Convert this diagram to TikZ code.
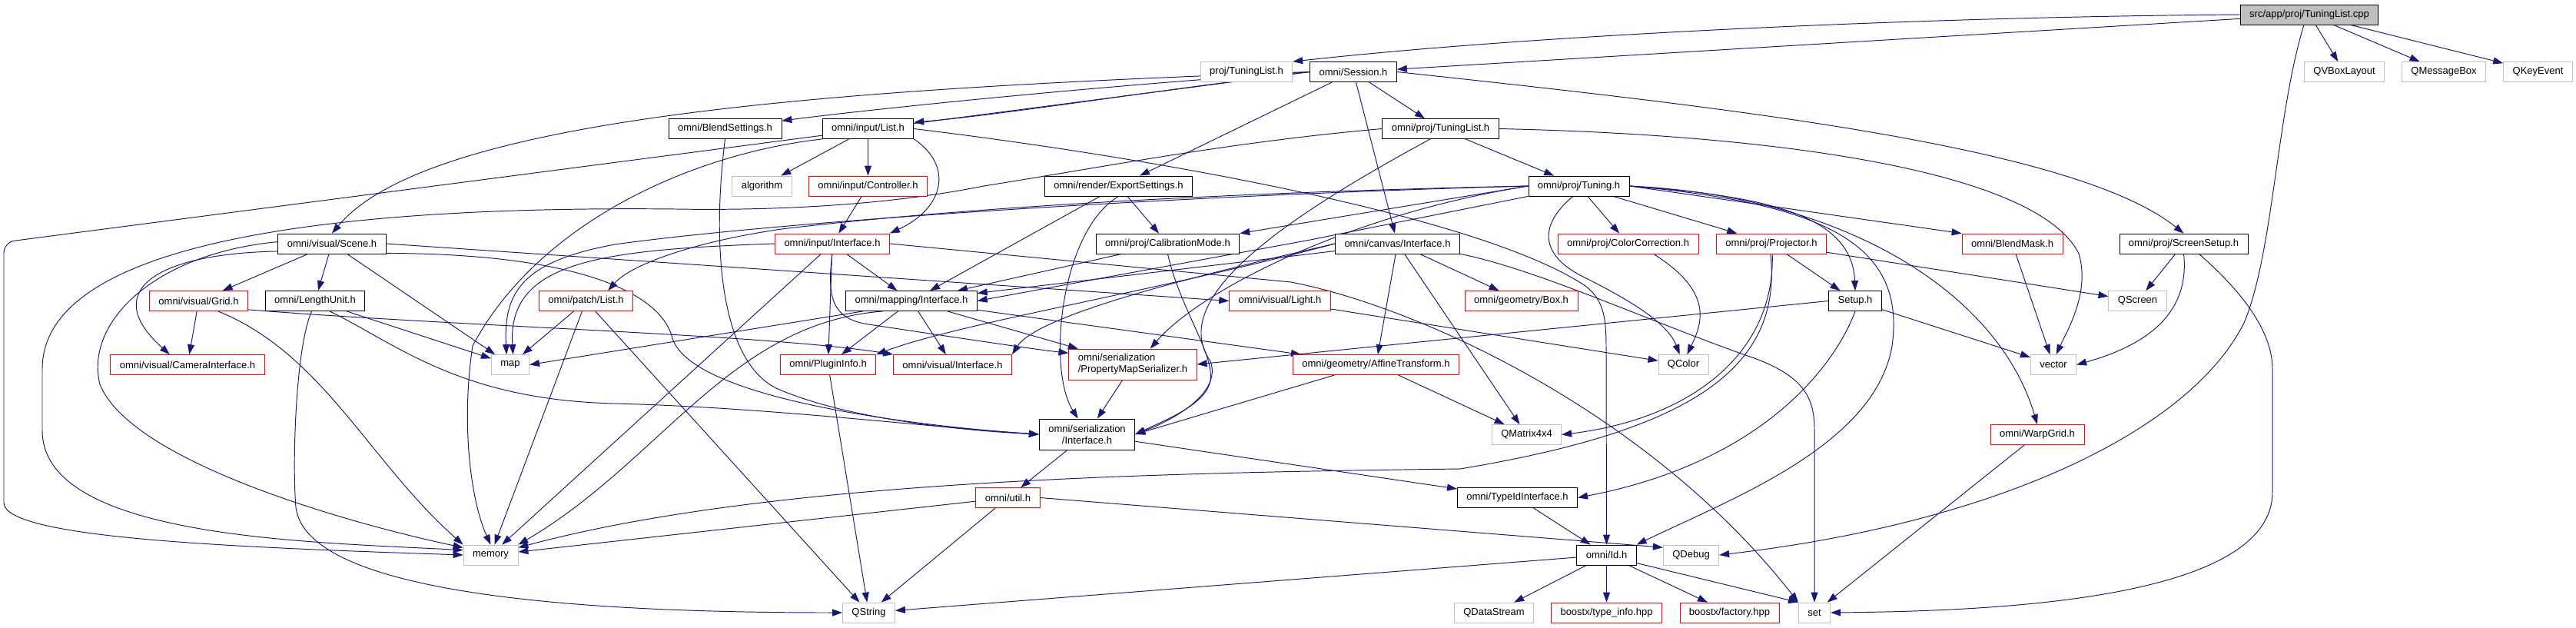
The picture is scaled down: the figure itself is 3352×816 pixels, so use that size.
\documentclass[tikz,border=0pt]{standalone}
\usepackage{fontspec}
\setmainfont{Liberation Sans}
\usepackage{xcolor}
\definecolor{depblue}{rgb}{0.1,0.1,0.44}
\definecolor{extgray}{rgb}{0.75,0.75,0.75}
\usepackage{tikz}
\usetikzlibrary{arrows.meta, backgrounds}

\begin{document}
\begin{tikzpicture}[x=0.02cm, y=-0.02cm,
	hdr/.style={rectangle, draw=black, fill=white, line width=0.45pt, minimum height=0.52cm,
	            inner xsep=0.24cm, inner ysep=1pt, font=\fontsize{7.4}{8.5}\selectfont},
	src/.style={hdr, fill=extgray},
	trunc/.style={hdr, draw=red},
	sys/.style={hdr, draw=extgray},
	two/.style={minimum height=0.8cm},
	dep/.style={-{Triangle[length=2.6mm, width=1.8mm]}, draw=depblue, line width=0.55pt}
	]
\useasboundingbox (0,0) rectangle (3352,816);

% Quelldatei und erste Ebene
\node[src] (cpp) at (3005,19) {src/app/proj/TuningList.cpp};
\node[sys] (projTL) at (1622,93.5) {proj/TuningList.h};
\node[hdr] (session) at (1761,93.5) {omni/Session.h};
\node[sys] (qvbox) at (3050.5,93.5) {QVBoxLayout};
\node[sys] (qmsg) at (3180,93.5) {QMessageBox};
\node[sys] (qkey) at (3302.5,93.5) {QKeyEvent};

% Header aus Session.h
\node[hdr] (blend) at (943.5,167.5) {omni/BlendSettings.h};
\node[hdr] (inlist) at (1129.5,167.5) {omni/input/List.h};
\node[hdr] (tlist) at (1874.5,167.5) {omni/proj/TuningList.h};
\node[sys] (algo) at (991.5,242) {algorithm};
\node[trunc] (ctrl) at (1129.5,242) {omni/input/Controller.h};
\node[hdr] (export) at (1455.5,242) {omni/render/ExportSettings.h};
\node[hdr] (tuning) at (2054.5,242) {omni/proj/Tuning.h};

% mittlere Ebenen
\node[hdr] (scene) at (432,317) {omni/visual/Scene.h};
\node[trunc] (iniface) at (1083,317) {omni/input/Interface.h};
\node[hdr] (calib) at (1519.5,317) {omni/proj/CalibrationMode.h};
\node[hdr] (canvas) at (1818.5,317) {omni/canvas/Interface.h};
\node[trunc] (colcorr) at (2118.5,317) {omni/proj/ColorCorrection.h};
\node[trunc] (proj) at (2305,317) {omni/proj/Projector.h};
\node[trunc] (bmask) at (2618.5,317) {omni/BlendMask.h};
\node[hdr] (screen) at (2841.5,317) {omni/proj/ScreenSetup.h};
\node[trunc] (grid) at (258.5,391.5) {omni/visual/Grid.h};
\node[hdr] (lunit) at (410,391.5) {omni/LengthUnit.h};
\node[trunc] (plist) at (762.5,391.5) {omni/patch/List.h};
\node[hdr] (mapping) at (1186,391.5) {omni/mapping/Interface.h};
\node[trunc] (light) at (1665.5,391.5) {omni/visual/Light.h};
\node[trunc] (box) at (1979.5,391.5) {omni/geometry/Box.h};
\node[hdr] (setup) at (2414,391.5) {Setup.h};
\node[sys] (qscreen) at (2781.5,391.5) {QScreen};
\node[trunc] (camera) at (244,474.5) {omni/visual/CameraInterface.h};
\node[sys] (map) at (664,474.5) {map};
\node[trunc] (plugin) at (1077.5,474.5) {omni/PluginInfo.h};
\node[trunc] (viface) at (1239.5,474.5) {omni/visual/Interface.h};
\node[trunc, two, align=left] (pmser) at (1474,474) {omni/serialization\\/PropertyMapSerializer.h};
\node[trunc] (affine) at (1790.5,474.5) {omni/geometry/AffineTransform.h};
\node[sys] (qcolor) at (2190.5,474.5) {QColor};
\node[sys] (vector) at (2672,474.5) {vector};

% untere Ebenen
\node[hdr, two, align=center] (serial) at (1414.5,565) {omni/serialization\\/Interface.h};
\node[sys] (qmatrix) at (1986.5,565.5) {QMatrix4x4};
\node[trunc] (warp) at (2651,565.5) {omni/WarpGrid.h};
\node[trunc] (util) at (1311.5,647.5) {omni/util.h};
\node[hdr] (typeid) at (1974.5,647.5) {omni/TypeIdInterface.h};
\node[sys] (memory) at (638.5,722) {memory};
\node[hdr] (id) at (2090.5,722) {omni/Id.h};
\node[sys] (qdebug) at (2200.5,722) {QDebug};
\node[sys] (qstring) at (1130.5,797) {QString};
\node[sys] (qdstream) at (1944,797) {QDataStream};
\node[trunc] (tinfo) at (2090.5,797) {boostx/type\_info.hpp};
\node[trunc] (factory) at (2250.5,797) {boostx/factory.hpp};
\node[sys] (set) at (2361,797) {set};

\begin{scope}[on background layer]
% Quelldatei
\draw[dep] (cpp.west) .. controls (2500,22) and (2000,45) .. (projTL.north east);
\draw[dep] (cpp) -- (session);
\draw[dep] (cpp) -- (qvbox);
\draw[dep] (cpp) -- (qmsg);
\draw[dep] (cpp) -- (qkey);
\draw[dep] (cpp.242) .. controls (2962,150) and (2958,330) .. (2920,420) .. controls (2850,560) and (2600,680) .. (qdebug.east);

% Session
\draw[dep] (session.west) .. controls (1450,110) and (1150,140) .. (blend.8);
\draw[dep] (session.west) .. controls (1500,118) and (1300,150) .. (inlist.8);
\draw[dep] (session.west) .. controls (1100,115) and (560,150) .. (scene.north);
\draw[dep] (session) -- (export);
\draw[dep] (session) -- (tlist);
\draw[dep] (session) -- (canvas);
\draw[dep] (session.east) .. controls (2250,140) and (2700,190) .. (screen.north);
\draw[dep, rounded corners=8pt] (session.west) -- (5,315) -- (5,640) .. controls (5,700) and (300,712) .. (memory.west);

% Eingabe
\draw[dep] (blend.south) .. controls (925,330) and (940,470) .. (1010,505) .. controls (1100,545) and (1250,560) .. (serial.west);
\draw[dep] (inlist) -- (algo);
\draw[dep] (inlist) -- (ctrl);
\draw[dep] (inlist.south east) .. controls (1240,215) and (1230,270) .. (iniface.north east);
\draw[dep] (inlist.south west) .. controls (900,200) and (700,290) .. (615,450) .. controls (600,550) and (612,650) .. (memory.north);
\draw[dep] (inlist.east) .. controls (1500,205) and (1920,280) .. (2060,370) .. controls (2090,390) and (2090,420) .. (2090,460) -- (id.north);
\draw[dep] (ctrl) -- (iniface);
\draw[dep] (export) -- (mapping);
\draw[dep] (export) -- (calib);
\draw[dep] (export.south) .. controls (1380,300) and (1362,480) .. (serial.120);

% Tuning-Liste
\draw[dep] (tlist) -- (tuning);
\draw[dep] (tlist.225) .. controls (1660,290) and (1520,390) .. (1575,470) .. controls (1590,510) and (1530,545) .. (serial.east);
\draw[dep] (tlist.east) .. controls (2300,175) and (2650,220) .. (2705,330) .. controls (2720,380) and (2690,430) .. (vector.75);
\draw[dep] (tlist.west) .. controls (1600,185) and (1450,215) .. (1280,242) .. controls (1150,268) and (1000,274) .. (880,272) .. controls (500,268) and (55,300) .. (55,480) -- (55,560) .. controls (55,700) and (400,705) .. (memory.170);

% Tuning
\draw[dep] (tuning.west) -- (calib.north east);
\draw[dep] (tuning.south west) -- (1705,312) -- (mapping.east);
\draw[dep] (tuning.west) .. controls (1500,255) and (1000,290) .. (800,318) .. controls (680,340) and (655,380) .. (map.110);
\draw[dep] (tuning.west) .. controls (1600,250) and (1250,270) .. (1017,298) .. controls (900,315) and (820,345) .. (plist.25);
\draw[dep] (tuning.west) .. controls (1750,280) and (1560,380) .. (pmser.42);
\draw[dep] (tuning) -- (colcorr);
\draw[dep] (tuning) -- (proj);
\draw[dep] (tuning.east) .. controls (2300,255) and (2410,280) .. (setup.north);
\draw[dep] (tuning.east) -- (bmask.north west);
\draw[dep] (tuning.east) .. controls (2400,255) and (2600,380) .. (warp.north);
\draw[dep] (tuning.east) .. controls (2380,265) and (2480,320) .. (2462,450) .. controls (2440,580) and (2250,650) .. (id.north east);
\draw[dep] (tuning.240) .. controls (2005,290) and (2000,330) .. (2060,360) .. controls (2120,390) and (2170,420) .. (qcolor.110);

% Szene
\draw[dep] (scene) -- (grid);
\draw[dep] (scene) -- (lunit);
\draw[dep] (scene.188) .. controls (200,330) and (130,380) .. (camera.150);
\draw[dep] (scene.178) .. controls (200,330) and (110,420) .. (130,500) .. controls (170,600) and (450,680) .. (memory.165);
\draw[dep] (scene) -- (map);
\draw[dep] (scene.east) -- (light.west);
\draw[dep] (scene.350) .. controls (750,330) and (860,380) .. (875,440) .. controls (900,520) and (1200,555) .. (serial.west);

% Gitter, Einheiten, Patches
\draw[dep] (grid) -- (camera);
\draw[dep] (grid.332) .. controls (420,460) and (480,600) .. (memory.north west);
\draw[dep] (grid.350) .. controls (600,425) and (1000,435) .. (viface.north west);
\draw[dep] (lunit) -- (map);
\draw[dep] (lunit.325) .. controls (520,450) and (600,520) .. (800,525) .. controls (1000,530) and (1200,555) .. (serial.west);
\draw[dep] (lunit.252) .. controls (385,450) and (380,600) .. (385,660) .. controls (400,780) and (800,797) .. (qstring.west);
\draw[dep] (plist) -- (map);
\draw[dep] (plist) -- (memory);
\draw[dep] (plist) -- (qstring);

% Eingabe-Interface
\draw[dep] (iniface.west) .. controls (780,325) and (660,340) .. (map.75);
\draw[dep] (iniface) -- (memory);
\draw[dep] (iniface) -- (plugin);
\draw[dep] (iniface.south) .. controls (1075,390) and (1085,415) .. (1130,422) .. controls (1250,440) and (1350,455) .. (pmser.170);
\draw[dep] (iniface) -- (mapping);
\draw[dep] (iniface.east) -- (1680,367) .. controls (1850,400) and (2150,540) .. (set.north west);

% Kalibrierung und Leinwand
\draw[dep] (calib) -- (mapping);
\draw[dep] (calib.south) .. controls (1535,400) and (1580,460) .. (1575,495) .. controls (1570,525) and (1520,545) .. (serial.east);
\draw[dep] (canvas) -- (mapping);
\draw[dep] (canvas.west) .. controls (1500,380) and (1250,420) .. (plugin.north east);
\draw[dep] (canvas.west) .. controls (1550,360) and (1350,410) .. (viface.north east);
\draw[dep] (canvas) -- (affine);
\draw[dep] (canvas) -- (qmatrix);
\draw[dep] (canvas) -- (box);
\draw[dep] (canvas.south east) .. controls (2000,350) and (2150,420) .. (2280,465) .. controls (2350,490) and (2361,520) .. (2361,560) -- (set.north);

% Mapping
\draw[dep] (mapping.192) -- (map.east);
\draw[dep] (mapping.200) .. controls (950,420) and (860,600) .. (memory.north east);
\draw[dep] (mapping) -- (plugin);
\draw[dep] (mapping) -- (viface);
\draw[dep] (mapping) -- (pmser);
\draw[dep] (mapping) -- (affine);

% Geometrie und Serialisierung
\draw[dep] (affine.194) -- (serial.east);
\draw[dep] (affine) -- (qmatrix);
\draw[dep] (plugin) -- (qstring);
\draw[dep] (pmser) -- (serial);
\draw[dep] (serial) -- (util);
\draw[dep] (serial) -- (typeid);
\draw[dep] (util) -- (memory);
\draw[dep] (util) -- (qstring);
\draw[dep] (util.east) -- (qdebug.165);

% Projektor und Setup
\draw[dep] (proj) -- (setup);
\draw[dep] (proj.275) .. controls (2310,460) and (2200,545) .. (qmatrix.east);
\draw[dep] (proj.265) .. controls (2320,480) and (2200,560) .. (1900,610) .. controls (1500,615) and (1000,625) .. (memory.15);
\draw[dep] (proj) -- (qscreen);
\draw[dep] (colcorr.338) .. controls (2230,380) and (2215,420) .. (qcolor.70);
\draw[dep] (light) -- (qcolor);
\draw[dep] (setup.south) .. controls (2390,470) and (2300,600) .. (typeid.east);
\draw[dep] (setup) -- (vector);
\draw[dep] (setup.west) -- (pmser.east);
\draw[dep] (bmask) -- (vector);
\draw[dep] (screen) -- (qscreen);
\draw[dep] (screen.south) .. controls (2850,410) and (2790,450) .. (vector.east);
\draw[dep] (screen.326) .. controls (2930,390) and (2957,440) .. (2957,480) -- (2957,640) .. controls (2957,780) and (2600,795) .. (set.east);
\draw[dep] (warp) -- (set);

% Id
\draw[dep] (typeid) -- (id);
\draw[dep] (id) -- (qstring);
\draw[dep] (id) -- (qdstream);
\draw[dep] (id) -- (tinfo);
\draw[dep] (id) -- (factory);
\draw[dep] (id.345) -- (set.north west);
\end{scope}

\end{tikzpicture}
\end{document}
